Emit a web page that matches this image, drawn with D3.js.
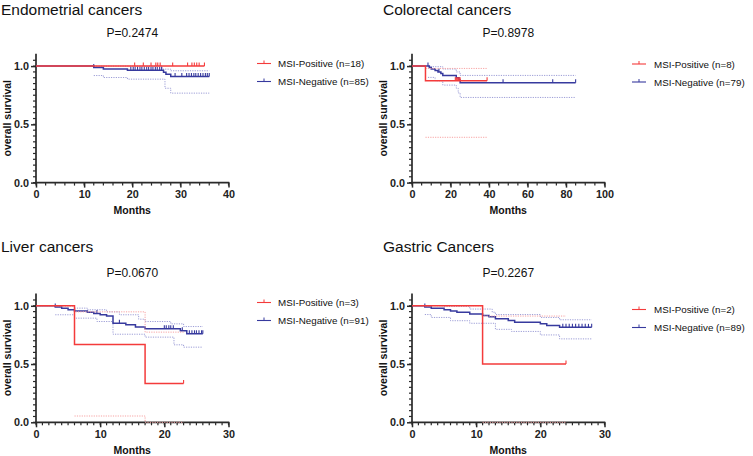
<!DOCTYPE html>
<html><head><meta charset="utf-8">
<script src="https://cdn.jsdelivr.net/npm/d3@7"></script>
<style>body{margin:0;background:#fff}svg{display:block}text{font-family:"Liberation Sans",Arial,Helvetica,sans-serif}</style>
</head><body>
<svg id="chart" width="753" height="456"></svg>
<script>
// ---------- data ----------
const panelTitles = ["Endometrial cancers", "Colorectal cancers", "Liver cancers", "Gastric Cancers"];
const pValueLabels = ["P=0.2474", "P=0.8978", "P=0.0670", "P=0.2267"];
const posLegendLabels = ["MSI-Positive (n=18)", "MSI-Positive (n=8)", "MSI-Positive (n=3)", "MSI-Positive (n=2)"];
const negLegendLabels = ["MSI-Negative (n=85)", "MSI-Negative (n=79)", "MSI-Negative (n=91)", "MSI-Negative (n=89)"];
const xMaxValues = [40, 100, 30, 30];
const xMajorSteps = [10, 20, 10, 10];
const xMinorSteps = [2, 5, 1, 1];
const yTickValues = [0, 0.5, 1.0];
const yTickLabels = ["0.0", "0.5", "1.0"];
const xAxisLabel = "Months";
const yAxisLabel = "overall survival";

// Endometrial
const endoPosTimes = [0, 35];
const endoPosSurv = [1, 1];
const endoPosCensor = [20.5, 22.3, 23.9, 24.9, 25.3, 25.8, 28.4, 31.5, 32.4, 32.9, 33.4, 33.9, 35];
const endoNegTimes = [0, 12, 14, 19, 26.5, 27, 28, 36];
const endoNegSurv = [1, 0.988, 0.976, 0.964, 0.948, 0.93, 0.91, 0.91];
const endoNegCensor = [12, 19.7, 20.2, 20.6, 21.1, 21.6, 22, 22.5, 23, 23.4, 23.9, 24.3, 24.8, 25.2, 25.7, 26.1,
  28.9, 30.3, 31.3, 31.8, 32.3, 32.8, 33.2, 33.7, 34.2, 34.7, 35.2, 35.6, 36];
const endoNegUpperTimes = [12, 26.2, 28, 36];
const endoNegUpperSurv = [1, 0.974, 0.96, 0.96];
const endoNegLowerTimes = [12, 14, 19, 26.8, 28, 36];
const endoNegLowerSurv = [0.919, 0.902, 0.888, 0.81, 0.768, 0.768];
const endoPosUpperTimes = [];
const endoPosUpperSurv = [];
const endoPosLowerTimes = [];
const endoPosLowerSurv = [];

// Colorectal
const coloPosTimes = [0, 7, 39];
const coloPosSurv = [1, 0.875, 0.875];
const coloPosCensor = [22.5, 23, 23.5, 24, 24.5, 25, 39];
const coloPosUpperTimes = [7, 39];
const coloPosUpperSurv = [0.98, 0.98];
const coloPosLowerTimes = [7, 39];
const coloPosLowerSurv = [0.389, 0.389];
const coloNegTimes = [0, 9, 10, 12, 13.5, 15, 16, 23, 24.4, 25, 85];
const coloNegSurv = [1, 0.987, 0.975, 0.962, 0.95, 0.937, 0.92, 0.9, 0.88, 0.857, 0.857];
const coloNegCensor = [8.3, 14, 47.3, 73.1, 85];
const coloNegUpperTimes = [8.3, 16, 23, 25, 85];
const coloNegUpperSurv = [0.995, 0.975, 0.95, 0.92, 0.92];
const coloNegLowerTimes = [8.3, 12, 16, 23, 24, 25, 85];
const coloNegLowerSurv = [0.903, 0.874, 0.837, 0.81, 0.77, 0.731, 0.731];

// Liver
const liverPosTimes = [0, 6, 17, 23];
const liverPosSurv = [1, 0.667, 0.333, 0.333];
const liverPosCensor = [23];
const liverPosUpperTimes = [0, 6, 17, 23];
const liverPosUpperSurv = [1, 0.948, 0.774, 0.774];
const liverPosLowerTimes = [6, 17, 23];
const liverPosLowerSurv = [0.054, 0, 0];
const liverNegTimes = [0, 3, 4, 5, 6, 8, 9, 10, 11, 12, 14, 15.5, 17, 22.5, 23.5, 26];
const liverNegSurv = [1, 0.989, 0.978, 0.967, 0.956, 0.945, 0.934, 0.923, 0.912, 0.851, 0.837, 0.817, 0.802, 0.785, 0.76, 0.76];
const liverNegCensor = [3, 9.5, 13, 20, 20.3, 20.7, 21, 21.4, 22.8, 23.9, 24.3, 24.7, 25, 25.4, 25.8, 26];
const liverNegUpperTimes = [3, 6, 8, 11, 13, 16, 17, 21, 23, 26];
const liverNegUpperSurv = [1, 0.98, 0.966, 0.948, 0.923, 0.885, 0.865, 0.845, 0.822, 0.822];
const liverNegLowerTimes = [3, 6, 9.5, 12, 17, 21.5, 23, 26];
const liverNegLowerSurv = [0.923, 0.894, 0.865, 0.756, 0.731, 0.665, 0.645, 0.645];

// Gastric
const gastPosTimes = [0, 11, 24];
const gastPosSurv = [1, 0.5, 0.5];
const gastPosCensor = [24];
const gastPosUpperTimes = [2, 11, 24];
const gastPosUpperSurv = [1, 0.912, 0.912];
const gastPosLowerTimes = [11, 24];
const gastPosLowerSurv = [0, 0];
const gastNegTimes = [0, 2, 3, 5, 6, 7, 9, 11, 12, 13, 15, 16, 20, 21, 23, 28];
const gastNegSurv = [1, 0.989, 0.978, 0.966, 0.955, 0.944, 0.93, 0.916, 0.905, 0.888, 0.874, 0.859, 0.845, 0.831, 0.815, 0.815];
const gastNegCensor = [2, 23.5, 24, 24.5, 25, 25.5, 26, 26.5, 27, 27.5, 28];
const gastNegUpperTimes = [5, 9, 12.5, 13, 20, 23, 28];
const gastNegUpperSurv = [0.995, 0.972, 0.945, 0.925, 0.9, 0.88, 0.88];
const gastNegLowerTimes = [2, 3, 6, 9, 13, 15.5, 20, 23, 28];
const gastNegLowerSurv = [0.925, 0.9, 0.872, 0.85, 0.798, 0.78, 0.75, 0.716, 0.716];

const panels = [
  {pos:[endoPosTimes, endoPosSurv, endoPosCensor, endoPosUpperTimes, endoPosUpperSurv, endoPosLowerTimes, endoPosLowerSurv],
   neg:[endoNegTimes, endoNegSurv, endoNegCensor, endoNegUpperTimes, endoNegUpperSurv, endoNegLowerTimes, endoNegLowerSurv]},
  {pos:[coloPosTimes, coloPosSurv, coloPosCensor, coloPosUpperTimes, coloPosUpperSurv, coloPosLowerTimes, coloPosLowerSurv],
   neg:[coloNegTimes, coloNegSurv, coloNegCensor, coloNegUpperTimes, coloNegUpperSurv, coloNegLowerTimes, coloNegLowerSurv]},
  {pos:[liverPosTimes, liverPosSurv, liverPosCensor, liverPosUpperTimes, liverPosUpperSurv, liverPosLowerTimes, liverPosLowerSurv],
   neg:[liverNegTimes, liverNegSurv, liverNegCensor, liverNegUpperTimes, liverNegUpperSurv, liverNegLowerTimes, liverNegLowerSurv]},
  {pos:[gastPosTimes, gastPosSurv, gastPosCensor, gastPosUpperTimes, gastPosUpperSurv, gastPosLowerTimes, gastPosLowerSurv],
   neg:[gastNegTimes, gastNegSurv, gastNegCensor, gastNegUpperTimes, gastNegUpperSurv, gastNegLowerTimes, gastNegLowerSurv]}
];

// ---------- layout ----------
const colX = [36, 412];        // y-axis x position
const colTitleX = [1, 383];
const colYLabelX = [11, 387];
const rowBase = [182.6, 422.3]; // y pixel of survival 0
const rowTitleY = [15, 251.5];
const plotW = 192.5, yUnit = 116.5;
const legendY = [63.5, 64, 302.5, 309.5];
const legendLineX = [257, 632];
const legendTextX = [278, 654];

const RED = "#f43b3b", BLUE = "#373a9e", RED_CI = "#f7a3a3", BLUE_CI = "#9c9dd6", AXIS = "#2a2a2a";

const svg = d3.select("#chart");

panels.forEach((p, i) => {
  const col = i % 2, row = Math.floor(i / 2);
  const x0 = colX[col], base = rowBase[row];
  const x = d3.scaleLinear().domain([0, xMaxValues[i]]).range([x0, x0 + plotW]);
  const y = d3.scaleLinear().domain([0, 1]).range([base, base - yUnit]);
  const g = svg.append("g");

  // titles
  g.append("text").attr("x", colTitleX[col]).attr("y", rowTitleY[row])
    .attr("font-size", 15.5).attr("fill", "#111").text(panelTitles[i]);
  g.append("text").attr("x", x0 + plotW / 2).attr("y", y(1) - 29)
    .attr("text-anchor", "middle").attr("font-size", 12).attr("fill", "#111").text(pValueLabels[i]);

  // y axis
  const yMax = 1.105;
  const yMinor = d3.range(0, 22).map(k => k * 0.05);
  const yAxis = d3.axisLeft(y).tickValues(yTickValues).tickFormat((d, k) => yTickLabels[k]).tickSize(5).tickPadding(2);
  const ya = g.append("g").attr("transform", `translate(${x0},0)`).call(yAxis);
  ya.select(".domain").remove();
  ya.selectAll(".tick line").attr("stroke", AXIS).attr("stroke-width", 1.5);
  ya.selectAll(".tick text").attr("font-size", 10.8).attr("font-weight", "bold").attr("fill", "#222")
    .style("font-family", '"Liberation Sans",Arial,sans-serif');
  g.selectAll(".yminor").data(yMinor).enter().append("line")
    .attr("x1", x0 - 3).attr("x2", x0).attr("y1", d => y(d)).attr("y2", d => y(d))
    .attr("stroke", AXIS).attr("stroke-width", 1.2);
  g.append("line").attr("x1", x0).attr("x2", x0).attr("y1", y(0) + 0.8).attr("y2", y(yMax))
    .attr("stroke", AXIS).attr("stroke-width", 1.7);

  // x axis
  const xMajor = d3.range(0, xMaxValues[i] + 0.001, xMajorSteps[i]);
  const xMinor = d3.range(0, xMaxValues[i] + 0.001, xMinorSteps[i]);
  const xAxis = d3.axisBottom(x).tickValues(xMajor).tickFormat(d3.format("d")).tickSize(5).tickPadding(3);
  const xa = g.append("g").attr("transform", `translate(0,${base})`).call(xAxis);
  xa.select(".domain").remove();
  xa.selectAll(".tick line").attr("stroke", AXIS).attr("stroke-width", 1.5);
  xa.selectAll(".tick text").attr("font-size", 10.8).attr("font-weight", "bold").attr("fill", "#222")
    .style("font-family", '"Liberation Sans",Arial,sans-serif');
  g.selectAll(".xminor").data(xMinor).enter().append("line")
    .attr("x1", d => x(d)).attr("x2", d => x(d)).attr("y1", base).attr("y2", base + 3)
    .attr("stroke", AXIS).attr("stroke-width", 1.2);
  g.append("line").attr("x1", x0 - 0.8).attr("x2", x(xMaxValues[i]) + 0.8).attr("y1", base).attr("y2", base)
    .attr("stroke", AXIS).attr("stroke-width", 1.7);

  // axis labels
  g.append("text").attr("x", x0 + plotW / 2).attr("y", base + 31.5).attr("text-anchor", "middle")
    .attr("font-size", 10.5).attr("font-weight", "bold").attr("fill", "#111").text(xAxisLabel);
  g.append("text").attr("transform", `translate(${colYLabelX[col]},${(y(0) + y(yMax)) / 2}) rotate(-90)`)
    .attr("text-anchor", "middle").attr("font-size", 10.5).attr("font-weight", "bold").attr("fill", "#111").text(yAxisLabel);

  const line = d3.line().x(d => x(d[0])).y(d => y(d[1])).curve(d3.curveStepAfter);
  const zip = (t, s) => t.map((v, k) => [v, s[k]]);

  function drawGroup(arr, color, ciColor) {
    const [t, s, cens, ut, us, lt, ls] = arr;
    if (ut.length) g.append("path").attr("d", line(zip(ut, us))).attr("fill", "none")
      .attr("stroke", ciColor).attr("stroke-width", 1).attr("stroke-dasharray", "1.2,1.2");
    if (lt.length) g.append("path").attr("d", line(zip(lt, ls))).attr("fill", "none")
      .attr("stroke", ciColor).attr("stroke-width", 1).attr("stroke-dasharray", "1.2,1.2");
    g.append("path").attr("d", line(zip(t, s))).attr("fill", "none")
      .attr("stroke", color).attr("stroke-width", 1.5);
    const bis = d3.bisector(d => d).right;
    g.selectAll(null).data(cens).enter().append("line")
      .attr("x1", d => x(d)).attr("x2", d => x(d))
      .attr("y1", d => y(s[Math.max(0, bis(t, d) - 1)]))
      .attr("y2", d => y(s[Math.max(0, bis(t, d) - 1)]) - 3.5)
      .attr("stroke", color).attr("stroke-width", 1.1);
  }
  drawGroup(p.neg, BLUE, BLUE_CI);
  drawGroup(p.pos, RED, RED_CI);

  // legend
  const ly = legendY[i];
  [[posLegendLabels[i], RED], [negLegendLabels[i], BLUE]].forEach(([lab, c], k) => {
    const yy = ly + k * 18;
    const lx = legendLineX[col];
    g.append("line").attr("x1", lx).attr("x2", lx + 14).attr("y1", yy).attr("y2", yy).attr("stroke", c).attr("stroke-width", 1.1);
    g.append("line").attr("x1", lx + 7).attr("x2", lx + 7).attr("y1", yy).attr("y2", yy - 3).attr("stroke", c).attr("stroke-width", 1);
    g.append("text").attr("x", legendTextX[col]).attr("y", yy + 3.5).attr("font-size", 9.8).attr("fill", "#111").text(lab);
  });
});
</script></body></html>
